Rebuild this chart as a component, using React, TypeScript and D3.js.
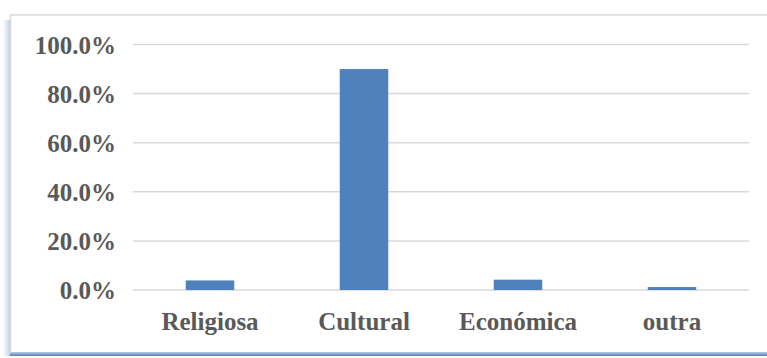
import React from "react";
import * as d3 from "d3";

const categories = ["Religiosa", "Cultural", "Económica", "outra"];
const values = [0.039, 0.9, 0.042, 0.012];
const yTicks = [0, 0.2, 0.4, 0.6, 0.8, 1.0];

const W = 767;
const H = 358;
const FONT = "'Liberation Serif', 'DejaVu Serif', serif";
const TEXT = "#595959";

export default function App() {
  const x = d3
    .scaleBand<string>()
    .domain(categories)
    .range([133, 749])
    .paddingInner(0.685)
    .paddingOuter(0.3425);
  const y = d3.scaleLinear().domain([0, 1]).range([290, 44.5]);
  const fmt = d3.format(".1%");

  return (
    <div style={{ position: "absolute", left: 0, top: 0 }}>
      <svg width={W} height={H} style={{ display: "block" }}>
        <defs>
          <linearGradient id="shL" x1="0" x2="1" y1="0" y2="0">
            <stop offset="0" stopColor="#dce6f2" stopOpacity="0" />
            <stop offset="1" stopColor="#b9cde5" stopOpacity="1" />
          </linearGradient>
          <linearGradient id="shB" x1="0" x2="0" y1="0" y2="1">
            <stop offset="0" stopColor="#b9cde5" />
            <stop offset="1" stopColor="#4f81bd" />
          </linearGradient>
        </defs>
        <rect x={0} y={0} width={W} height={H} fill="#ffffff" />
        {/* frame shadow */}
        <rect x={2} y={20} width={8} height={336} fill="url(#shL)" />
        <rect x={10} y={352} width={W - 10} height={4} fill="url(#shB)" />
        {/* frame */}
        <line x1={10} x2={W} y1={15} y2={15} stroke="#d9d9d9" strokeWidth={1.5} />
        <line x1={10.5} x2={10.5} y1={15} y2={353} stroke="#d9d9d9" strokeWidth={1.5} />
        {/* gridlines */}
        {yTicks.map((t) => (
          <line
            key={"g" + t}
            x1={133}
            x2={749}
            y1={y(t)}
            y2={y(t)}
            stroke="#d9d9d9"
            strokeWidth={1.5}
          />
        ))}
        {/* y labels */}
        {yTicks.map((t) => (
          <text
            key={"t" + t}
            x={116}
            y={y(t) + 9}
            textAnchor="end"
            fontFamily={FONT}
            fontWeight="bold"
            fontSize={25}
            fill={TEXT}
          >
            {fmt(t)}
          </text>
        ))}
        {/* bars */}
        {categories.map((c, i) => (
          <rect
            key={c}
            x={x(c)!}
            y={y(values[i])}
            width={x.bandwidth()}
            height={y(0) - y(values[i])}
            fill="#4f81bd"
          />
        ))}
        {/* x labels */}
        {categories.map((c) => (
          <text
            key={"x" + c}
            x={x(c)! + x.bandwidth() / 2}
            y={330}
            textAnchor="middle"
            fontFamily={FONT}
            fontWeight="bold"
            fontSize={25}
            fill={TEXT}
          >
            {c}
          </text>
        ))}
      </svg>
    </div>
  );
}
